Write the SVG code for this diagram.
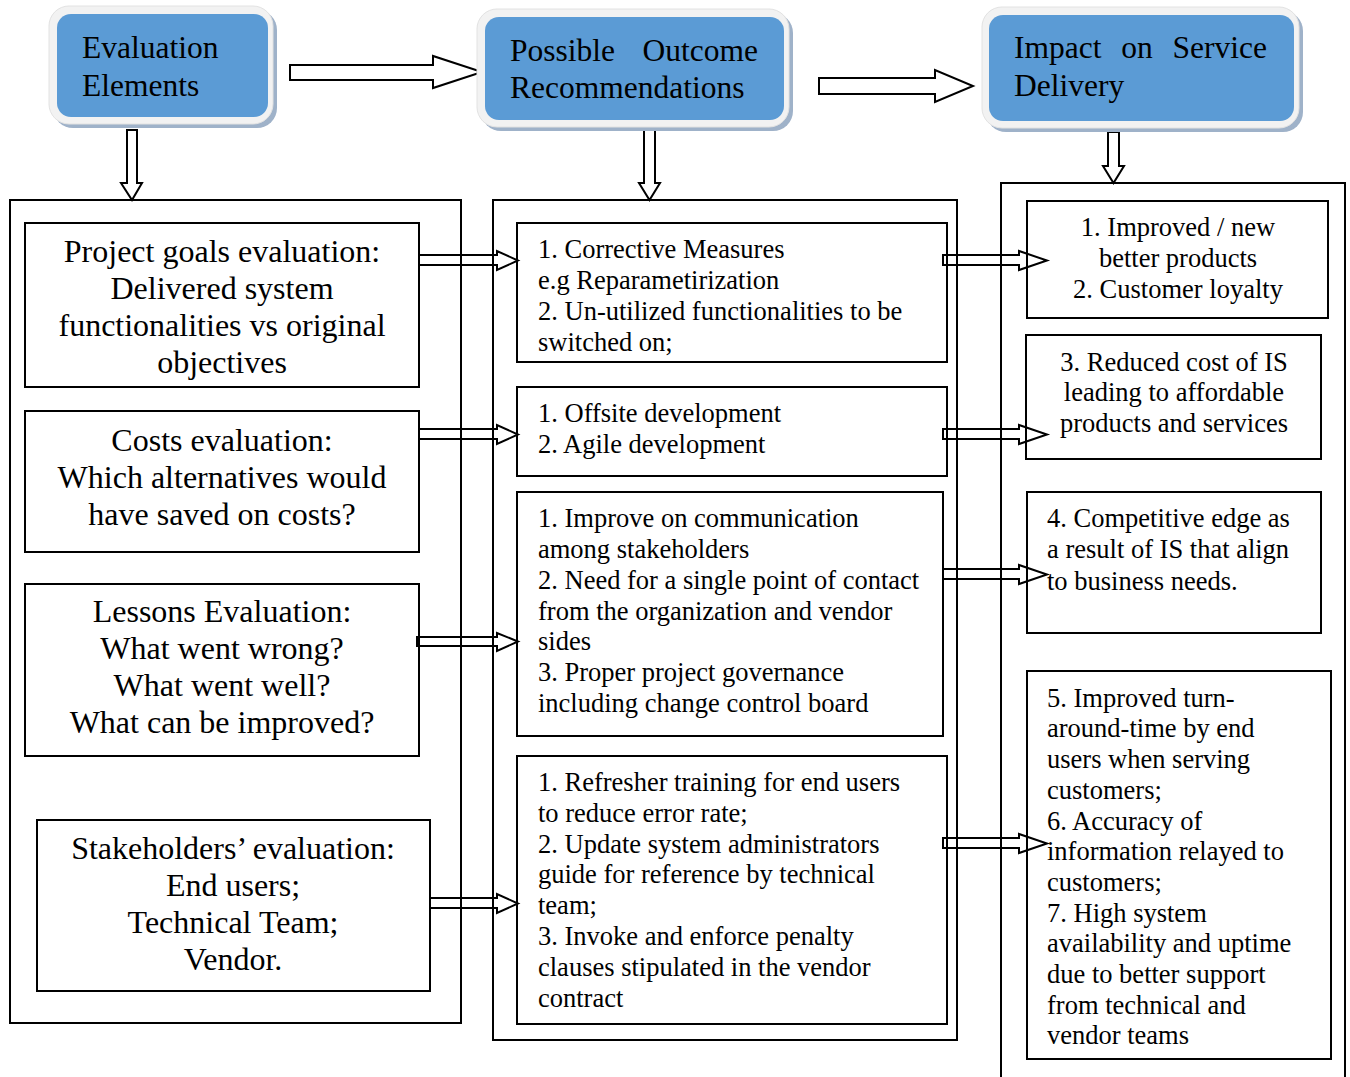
<svg xmlns="http://www.w3.org/2000/svg" width="1350" height="1077" viewBox="0 0 1350 1077">
<defs>
<style>
.hdr-sh{fill:#9fb2c9}
.hdr-rim{fill:#f2f2f2;stroke:#e2e2e2;stroke-width:1}
.hdr-in{fill:#5b9bd5}
.ht{font-family:"Liberation Serif","Times New Roman",serif;font-size:31.5px;fill:#000}
.box{fill:none;stroke:#000;stroke-width:2}
.cont{fill:none;stroke:#000;stroke-width:2}
.big{font-family:"Liberation Serif","Times New Roman",serif;font-size:32px;fill:#000;text-anchor:middle}
.sm{font-family:"Liberation Serif","Times New Roman",serif;font-size:26.5px;fill:#000}
.smc{font-family:"Liberation Serif","Times New Roman",serif;font-size:26.5px;fill:#000;text-anchor:middle}
.arr{fill:#fff;stroke:#000;stroke-width:2;stroke-linejoin:miter}
</style>
</defs>
<rect width="1350" height="1077" fill="#fff"/>

<g id="connectors">
<path class="arr" d="M290,65 H433 V56 L482,72 L433,88 V80 H290 Z"/>
<path class="arr" d="M819,78 H935 V70 L973,86 L935,102 V94 H819 Z"/>
<path class="arr" d="M127,130 H137 V183 H142 L132,200 L121,183 H127 Z"/>
<path class="arr" d="M644,130 H655 V183 H660 L649.5,200 L639,183 H644 Z"/>
<path class="arr" d="M1108,132 H1119 V166 H1124 L1113.5,183 L1103,166 H1108 Z"/>
<path class="arr" d="M419,255 H497 V251 L518,260.5 L497,270 V265 H419 Z"/>
<path class="arr" d="M419,429 H497 V425 L518,434.5 L497,444 V439 H419 Z"/>
<path class="arr" d="M417,637 H497 V633 L518,641.5 L497,651 V646 H417 Z"/>
<path class="arr" d="M430,898 H497 V894 L518,903.5 L497,913 V908 H430 Z"/>
<path class="arr" d="M943,255 H1019 V251 L1047,260.5 L1019,270 V265 H943 Z"/>
<path class="arr" d="M943,429 H1019 V425 L1047,434.5 L1019,444 V439 H943 Z"/>
<path class="arr" d="M943,569 H1019 V565 L1047,574.5 L1019,584 V579 H943 Z"/>
<path class="arr" d="M943,838 H1019 V834 L1047,843.5 L1019,853 V848 H943 Z"/>
</g>

<g id="hdr-evaluation">
<rect class="hdr-sh" x="53" y="10" width="224" height="118" rx="20"/>
<rect class="hdr-rim" x="49" y="6" width="224" height="118" rx="20"/>
<rect class="hdr-in" x="57" y="14" width="211" height="103" rx="14"/>
<text class="ht" x="82" y="58">Evaluation</text>
<text class="ht" x="82" y="96">Elements</text>
</g>

<g id="hdr-outcome">
<rect class="hdr-sh" x="481" y="13" width="312" height="118" rx="20"/>
<rect class="hdr-rim" x="477" y="9" width="312" height="118" rx="20"/>
<rect class="hdr-in" x="485" y="17" width="299" height="103" rx="14"/>
<text class="ht" y="61"><tspan x="510">Possible</tspan><tspan x="758" text-anchor="end">Outcome</tspan></text>
<text class="ht" x="510" y="98">Recommendations</text>
</g>

<g id="hdr-impact">
<rect class="hdr-sh" x="986" y="11" width="317" height="121" rx="20"/>
<rect class="hdr-rim" x="982" y="7" width="317" height="121" rx="20"/>
<rect class="hdr-in" x="989" y="15" width="305" height="106" rx="14"/>
<text class="ht" y="58"><tspan x="1014">Impact</tspan><tspan x="1137" text-anchor="middle">on</tspan><tspan x="1267" text-anchor="end">Service</tspan></text>
<text class="ht" x="1014" y="96">Delivery</text>
</g>

<g id="col-left">
<rect class="cont" x="10" y="200" width="451" height="823"/>
</g>
<g id="col-middle">
<rect class="cont" x="493" y="200" width="464" height="840"/>
</g>
<g id="col-right">
<path class="cont" d="M1001,1077 V183 H1345 V1077"/>
</g>

<g id="n-project-goals">
<rect class="box" x="25" y="223" width="394" height="164"/>
<text class="big" x="222" y="262">Project goals evaluation:</text>
<text class="big" x="222" y="299">Delivered system</text>
<text class="big" x="222" y="336">functionalities vs original</text>
<text class="big" x="222" y="373">objectives</text>
</g>
<g id="n-costs">
<rect class="box" x="25" y="411" width="394" height="141"/>
<text class="big" x="222" y="451">Costs evaluation:</text>
<text class="big" x="222" y="488">Which alternatives would</text>
<text class="big" x="222" y="525">have saved on costs?</text>
</g>
<g id="n-lessons">
<rect class="box" x="25" y="584" width="394" height="172"/>
<text class="big" x="222" y="622">Lessons Evaluation:</text>
<text class="big" x="222" y="659">What went wrong?</text>
<text class="big" x="222" y="696">What went well?</text>
<text class="big" x="222" y="733">What can be improved?</text>
</g>
<g id="n-stakeholders">
<rect class="box" x="37" y="820" width="393" height="171"/>
<text class="big" x="233" y="859">Stakeholders’ evaluation:</text>
<text class="big" x="233" y="896">End users;</text>
<text class="big" x="233" y="933">Technical Team;</text>
<text class="big" x="233" y="970">Vendor.</text>
</g>

<g id="n-corrective">
<rect class="box" x="517" y="223" width="430" height="139"/>
<text class="sm" x="538" y="258">1. Corrective Measures</text>
<text class="sm" x="538" y="289">e.g Reparametirization</text>
<text class="sm" x="538" y="320">2. Un-utilized functionalities to be</text>
<text class="sm" x="538" y="351">switched on;</text>
</g>
<g id="n-offsite">
<rect class="box" x="517" y="387" width="430" height="89"/>
<text class="sm" x="538" y="422">1. Offsite development</text>
<text class="sm" x="538" y="453">2. Agile development</text>
</g>
<g id="n-communication">
<rect class="box" x="517" y="492" width="426" height="244"/>
<text class="sm" x="538" y="527">1. Improve on communication</text>
<text class="sm" x="538" y="558">among stakeholders</text>
<text class="sm" x="538" y="589">2. Need for a single point of contact</text>
<text class="sm" x="538" y="620">from the organization and vendor</text>
<text class="sm" x="538" y="650">sides</text>
<text class="sm" x="538" y="681">3. Proper project governance</text>
<text class="sm" x="538" y="712">including change control board</text>
</g>
<g id="n-training">
<rect class="box" x="517" y="756" width="430" height="268"/>
<text class="sm" x="538" y="791">1. Refresher training for end users</text>
<text class="sm" x="538" y="822">to reduce error rate;</text>
<text class="sm" x="538" y="853">2. Update system administrators</text>
<text class="sm" x="538" y="883">guide for reference by technical</text>
<text class="sm" x="538" y="914">team;</text>
<text class="sm" x="538" y="945">3. Invoke and enforce penalty</text>
<text class="sm" x="538" y="976">clauses stipulated in the vendor</text>
<text class="sm" x="538" y="1007">contract</text>
</g>

<g id="n-improved">
<rect class="box" x="1027" y="201" width="301" height="117"/>
<text class="smc" x="1178" y="236">1. Improved / new</text>
<text class="smc" x="1178" y="267">better products</text>
<text class="smc" x="1178" y="298">2. Customer loyalty</text>
</g>
<g id="n-reduced-cost">
<rect class="box" x="1026" y="335" width="295" height="124"/>
<text class="smc" x="1174" y="371">3. Reduced cost of IS</text>
<text class="smc" x="1174" y="401">leading to affordable</text>
<text class="smc" x="1174" y="432">products and services</text>
</g>
<g id="n-competitive">
<rect class="box" x="1027" y="492" width="294" height="141"/>
<text class="sm" x="1047" y="527">4. Competitive edge as</text>
<text class="sm" x="1047" y="558">a result of IS that align</text>
<text class="sm" x="1047" y="590">to business needs.</text>
</g>
<g id="n-turnaround">
<rect class="box" x="1027" y="671" width="304" height="388"/>
<text class="sm" x="1047" y="707">5. Improved turn-</text>
<text class="sm" x="1047" y="737">around-time by end</text>
<text class="sm" x="1047" y="768">users when serving</text>
<text class="sm" x="1047" y="799">customers;</text>
<text class="sm" x="1047" y="830">6. Accuracy of</text>
<text class="sm" x="1047" y="860">information relayed to</text>
<text class="sm" x="1047" y="891">customers;</text>
<text class="sm" x="1047" y="922">7. High system</text>
<text class="sm" x="1047" y="952">availability and uptime</text>
<text class="sm" x="1047" y="983">due to better support</text>
<text class="sm" x="1047" y="1014">from technical and</text>
<text class="sm" x="1047" y="1044">vendor teams</text>
</g>
</svg>
